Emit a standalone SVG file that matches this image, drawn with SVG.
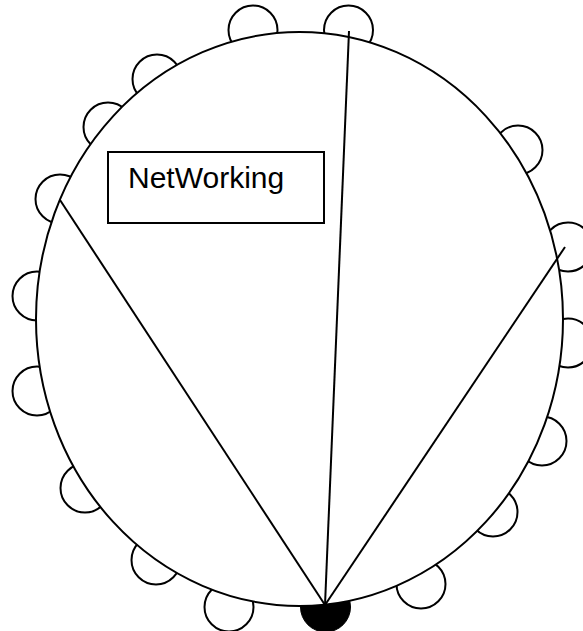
<svg xmlns="http://www.w3.org/2000/svg" width="583" height="631" viewBox="0 0 583 631">
<style>
.bump{fill:#fff;stroke:#000;stroke-width:2}
.body{fill:#fff;stroke:#000;stroke-width:2}
.con{stroke:#000;stroke-width:2;fill:none}
.lbl{font-family:"Liberation Sans",Arial,sans-serif;font-size:30px;fill:#000}
</style>
<rect width="583" height="631" fill="#fff"/>
<g id="bumps">
<circle class="bump" cx="253" cy="30" r="24.5"/>
<circle class="bump" cx="348.5" cy="30" r="24.5"/>
<circle class="bump" cx="157" cy="79" r="24.5"/>
<circle class="bump" cx="108" cy="127" r="24.5"/>
<circle class="bump" cx="60" cy="199" r="24.5"/>
<circle class="bump" cx="37" cy="296" r="24.5"/>
<circle class="bump" cx="37" cy="391" r="24.5"/>
<circle class="bump" cx="85" cy="488" r="24.5"/>
<circle class="bump" cx="156" cy="560" r="24.5"/>
<circle class="bump" cx="229" cy="607" r="24.5"/>
<circle id="anchor" cx="325.5" cy="607" r="25" fill="#000" stroke="#000" stroke-width="1"/>
<circle class="bump" cx="421" cy="584" r="24.5"/>
<circle class="bump" cx="493" cy="512" r="24.5"/>
<circle class="bump" cx="542" cy="441" r="24.5"/>
<circle class="bump" cx="568" cy="343" r="24.5"/>
<circle class="bump" cx="568" cy="247" r="24.5"/>
<circle class="bump" cx="518" cy="150" r="24.5"/>
</g>
<g id="network">
<ellipse class="body" cx="299.5" cy="319" rx="263.5" ry="287"/>
</g>
<g id="connectors">
<line class="con" x1="325" y1="605" x2="60" y2="200"/>
<line class="con" x1="325" y1="605" x2="349" y2="31"/>
<line class="con" x1="325" y1="605" x2="565" y2="247"/>
</g>
<g id="label">
<rect x="108" y="152" width="216" height="71" fill="#fff" stroke="#000" stroke-width="2"/>
<text class="lbl" x="128" y="188">NetWorking</text>
</g>
</svg>
